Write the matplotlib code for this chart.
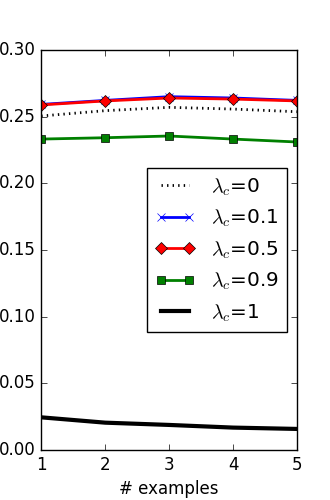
import matplotlib
matplotlib.use('Agg')
import matplotlib.pyplot as plt
import numpy as np

plt.style.use('classic')

examples = [1, 2, 3, 4, 5]
lam_0 = [0.2505, 0.2545, 0.2570, 0.2557, 0.2537]
lam_01 = [0.2592, 0.2622, 0.2650, 0.2640, 0.2622]
lam_05 = [0.2588, 0.2618, 0.2640, 0.2632, 0.2618]
lam_09 = [0.2332, 0.2342, 0.2355, 0.2332, 0.2310]
lam_1 = [0.0245, 0.0205, 0.0188, 0.0168, 0.0158]

fig, ax = plt.subplots(figsize=(3.3, 5), dpi=100)
ax.plot(examples, lam_0, 'k:', linewidth=2, label=r'$\lambda_c$=0')
ax.plot(examples, lam_01, color='b', marker='x', linewidth=2, label=r'$\lambda_c$=0.1')
ax.plot(examples, lam_05, color='r', marker='D', linewidth=2, label=r'$\lambda_c$=0.5')
ax.plot(examples, lam_09, color='g', marker='s', linewidth=2, label=r'$\lambda_c$=0.9')
ax.plot(examples, lam_1, 'k-', linewidth=3, label=r'$\lambda_c$=1')

ax.set_xlim(1, 5)
ax.set_ylim(0, 0.3)
ax.set_xticks(examples)
ax.set_xlabel('# examples')
ax.legend(loc='center right')

fig.savefig('out.png', dpi=100)
